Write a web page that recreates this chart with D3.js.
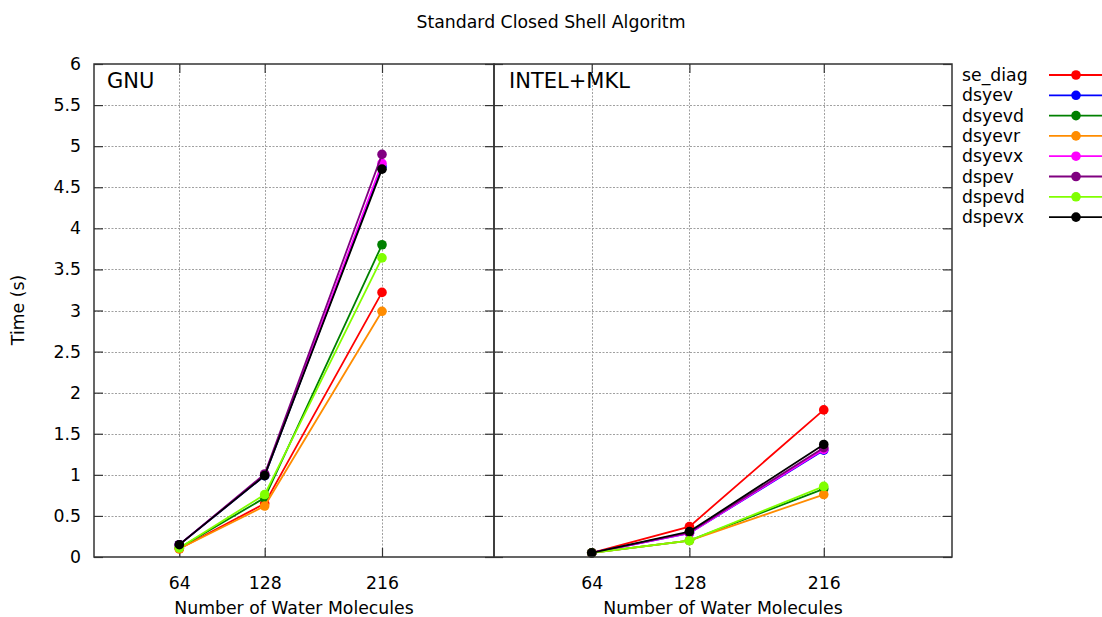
<!DOCTYPE html>
<html>
<head>
<meta charset="utf-8">
<script src="https://cdn.jsdelivr.net/npm/d3@7"></script>
<style>
  html, body { margin: 0; padding: 0; background: #fff; }
  svg { display: block; font-family: "DejaVu Sans", sans-serif; }
</style>
</head>
<body>
<svg id="chart" width="1102" height="617"></svg>
<script>
// Problem sizes (number of water molecules)
const sizes = [64, 128, 216];
const xTicks = [64, 128, 216];
const yTicks = [0, 0.5, 1, 1.5, 2, 2.5, 3, 3.5, 4, 4.5, 5, 5.5, 6];

const seriesNames = ["se_diag", "dsyev", "dsyevd", "dsyevr", "dsyevx", "dspev", "dspevd", "dspevx"];
const seriesColors = ["#ff0000", "#0000ff", "#008000", "#ff8c00", "#ff00ff", "#800080", "#80ff00", "#000000"];

// Timings (s), GNU build
const gnuSeDiag = [0.10, 0.65, 3.22];
const gnuDsyev  = [0.15, 0.99, 4.75];
const gnuDsyevd = [0.11, 0.72, 3.80];
const gnuDsyevr = [0.10, 0.62, 2.99];
const gnuDsyevx = [0.15, 1.00, 4.79];
const gnuDspev  = [0.15, 1.01, 4.90];
const gnuDspevd = [0.11, 0.76, 3.64];
const gnuDspevx = [0.15, 0.99, 4.72];

// Timings (s), INTEL + MKL build
const mklSeDiag = [0.05, 0.37, 1.79];
const mklDsyev  = [0.05, 0.29, 1.30];
const mklDsyevd = [0.05, 0.20, 0.83];
const mklDsyevr = [0.05, 0.20, 0.76];
const mklDsyevx = [0.05, 0.29, 1.31];
const mklDspev  = [0.05, 0.30, 1.33];
const mklDspevd = [0.05, 0.20, 0.86];
const mklDspevx = [0.05, 0.31, 1.37];

const gnuData = [gnuSeDiag, gnuDsyev, gnuDsyevd, gnuDsyevr, gnuDsyevx, gnuDspev, gnuDspevd, gnuDspevx];
const mklData = [mklSeDiag, mklDsyev, mklDsyevd, mklDsyevr, mklDsyevx, mklDspev, mklDspevd, mklDspevx];

const svg = d3.select("#chart");
const FONT = 17.3;
const plotTop = 64, plotBottom = 557;

const y = d3.scaleLinear().domain([0, 6]).range([plotBottom, plotTop]);

svg.append("text")
  .attr("x", 551).attr("y", 28)
  .attr("text-anchor", "middle")
  .attr("font-size", FONT)
  .text("Standard Closed Shell Algoritm");

svg.append("text")
  .attr("transform", "translate(24,310) rotate(-90)")
  .attr("text-anchor", "middle")
  .attr("font-size", FONT)
  .text("Time (s)");

const panels = [
  { name: "GNU", x0: 94, x1: 494, data: gnuData, yLabels: true, labelDx: 13 },
  { name: "INTEL+MKL", x0: 494, x1: 952, data: mklData, yLabels: false, labelDx: 15 }
];

const TICK = 9;

panels.forEach(p => {
  const x = d3.scaleLinear().domain([0, 300]).range([p.x0, p.x1]);
  const g = svg.append("g");

  // grid
  const grid = g.append("g")
    .attr("stroke", "#a0a0a0").attr("stroke-width", 1)
    .attr("stroke-dasharray", "2,1.5");
  yTicks.slice(1, -1).forEach(v => {
    grid.append("line")
      .attr("x1", p.x0).attr("x2", p.x1)
      .attr("y1", Math.round(y(v)) + 0.5).attr("y2", Math.round(y(v)) + 0.5);
  });
  xTicks.forEach(v => {
    grid.append("line")
      .attr("x1", Math.round(x(v)) + 0.5).attr("x2", Math.round(x(v)) + 0.5)
      .attr("y1", plotTop).attr("y2", plotBottom);
  });

  // bottom axis with mirrored top ticks
  const xAxis = d3.axisBottom(x).tickValues(xTicks).tickSize(-TICK).tickPadding(TICK + 11)
    .tickFormat(d3.format("d"));
  const gx = g.append("g").attr("transform", `translate(0,${plotBottom})`).call(xAxis);
  gx.select(".domain").remove();
  gx.selectAll("text").attr("font-size", FONT).attr("font-family", "DejaVu Sans").attr("fill", "#000");
  gx.selectAll("line").attr("stroke", "#333").attr("stroke-width", 1.2);

  const gxt = g.append("g").attr("transform", `translate(0,${plotTop})`)
    .call(d3.axisTop(x).tickValues(xTicks).tickSize(-TICK).tickFormat(""));
  gxt.select(".domain").remove();
  gxt.selectAll("line").attr("stroke", "#333").attr("stroke-width", 1.2);

  // left and right y tick marks
  const yAxisL = d3.axisLeft(y).tickValues(yTicks).tickSize(-TICK).tickPadding(TICK + 4)
    .tickFormat(p.yLabels ? d3.format("") : "");
  const gy = g.append("g").attr("transform", `translate(${p.x0},0)`).call(yAxisL);
  gy.select(".domain").remove();
  gy.selectAll("text").attr("font-size", FONT).attr("font-family", "DejaVu Sans").attr("fill", "#000");
  gy.selectAll("line").attr("stroke", "#333").attr("stroke-width", 1.2);

  const gyr = g.append("g").attr("transform", `translate(${p.x1},0)`)
    .call(d3.axisRight(y).tickValues(yTicks).tickSize(-TICK).tickFormat(""));
  gyr.select(".domain").remove();
  gyr.selectAll("line").attr("stroke", "#333").attr("stroke-width", 1.2);

  // series
  const line = d3.line().x((d, i) => x(sizes[i])).y(d => y(d));
  p.data.forEach((vals, k) => {
    g.append("path")
      .attr("d", line(vals))
      .attr("fill", "none")
      .attr("stroke", seriesColors[k])
      .attr("stroke-width", 1.8);
    g.selectAll(null).data(vals).enter().append("circle")
      .attr("cx", (d, i) => x(sizes[i]))
      .attr("cy", d => y(d))
      .attr("r", 4.8)
      .attr("fill", seriesColors[k]);
  });

  // frame
  g.append("rect")
    .attr("x", p.x0).attr("y", plotTop)
    .attr("width", p.x1 - p.x0).attr("height", plotBottom - plotTop)
    .attr("fill", "none").attr("stroke", "#333").attr("stroke-width", 1.5);

  g.append("text")
    .attr("x", p.x0 + p.labelDx).attr("y", 88)
    .attr("font-size", 21)
    .text(p.name);

  g.append("text")
    .attr("x", (p.x0 + p.x1) / 2).attr("y", 614)
    .attr("text-anchor", "middle")
    .attr("font-size", FONT)
    .text("Number of Water Molecules");
});

// legend
const legend = svg.append("g");
seriesNames.forEach((name, k) => {
  const cy = 75 + k * 20.3;
  legend.append("text")
    .attr("x", 962).attr("y", cy)
    .attr("dy", "0.35em")
    .attr("font-size", FONT)
    .text(name);
  legend.append("line")
    .attr("x1", 1049).attr("x2", 1102)
    .attr("y1", cy).attr("y2", cy)
    .attr("stroke", seriesColors[k]).attr("stroke-width", 1.8);
  legend.append("circle")
    .attr("cx", 1076).attr("cy", cy).attr("r", 4.8)
    .attr("fill", seriesColors[k]);
});
</script>
</body>
</html>
